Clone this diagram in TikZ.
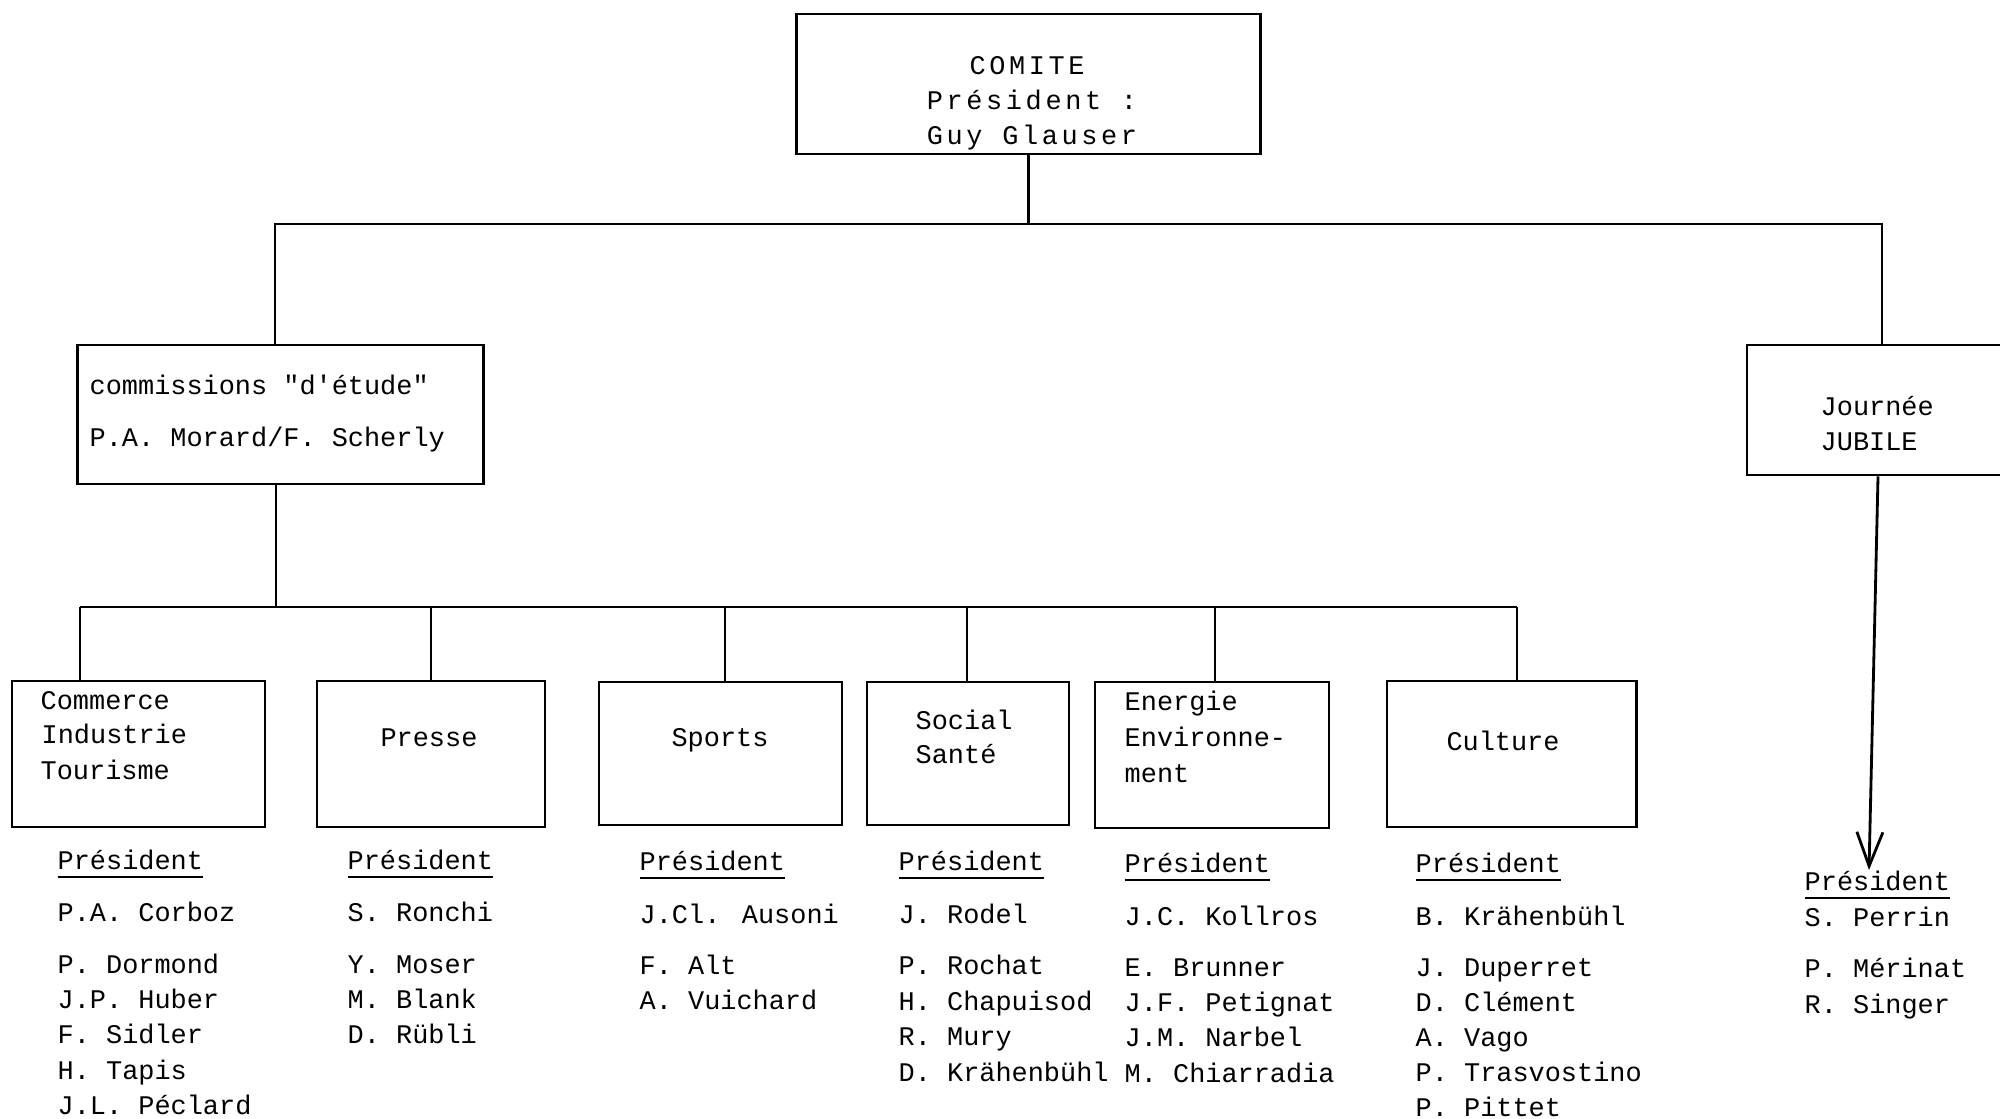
\documentclass[tikz,border=0pt]{standalone}
\usepackage{fontspec}
\setmainfont{Liberation Mono}
\newfontfamily\typew{Liberation Mono}
\newfontfamily\typewide[LetterSpace=13.5]{Liberation Mono}
\usepackage{tikz}
\usetikzlibrary{arrows.meta}

\newcommand\txtfont{\typew\fontsize{7.65}{10}\selectfont}
\newcommand\widefont{\typewide\fontsize{7.65}{10}\selectfont}
\newcommand\undl[1]{\setbox0\hbox{#1}\rlap{\rule[-2.6pt]{\wd0}{0.55pt}}\box0}

\tikzset{
  box/.style 2 args={draw, rectangle, line width=0.8pt, inner sep=0pt, minimum width=#1cm, minimum height=#2cm},
  txt/.style={anchor=base west, inner sep=0pt, font=\txtfont},
  ctr/.style={anchor=base, inner sep=0pt, font=\txtfont},
  link/.style={line width=0.8pt},
}

\begin{document}
\begin{tikzpicture}
[x=0.01cm, y=-0.01cm, >={Straight Barb[length=3.4mm,width=2.6mm]}]
\useasboundingbox (0,0) rectangle (2000,1119);

% boxes
\node[box={4.63}{1.40}] (comite) at (1028.5,84) {};
\node[box={4.05}{1.39}] (comm) at (280.5,414.5) {};
\node[box={2.66}{1.30}] (jubile) at (1880,410) {};
\node[box={2.53}{1.46}] (commerce) at (138.5,754) {};
\node[box={2.28}{1.46}] (presse) at (431,754) {};
\node[box={2.43}{1.43}] (sports) at (720.5,753.5) {};
\node[box={2.02}{1.43}] (social) at (968,753.5) {};
\node[box={2.34}{1.46}] (energie) at (1212,755) {};
\node[box={2.49}{1.46}] (culture) at (1511.5,754) {};

% connectors, upper level
\coordinate (j-comm) at (275,224);
\coordinate (j-jub) at (1882,224);
\draw[link] (comite.south) -- (comite.south |- j-comm);
\draw[link] (j-comm |- comm.north) -- (j-comm) -- (j-jub) -- (j-jub |- jubile.north);

% connectors, commissions
\coordinate (j-low) at (276,607);
\draw[link] (j-low |- comm.south) -- (j-low);
\foreach \b/\xx in {commerce/80, presse/431, sports/725, social/967, energie/1215, culture/1517}{
  \coordinate (j-\b) at (\xx,607);
  \draw[link] (j-\b) -- (j-\b |- \b.north);
}
\draw[link] (j-commerce) -- (j-culture);

% arrow to the jubile list
\coordinate (j-arr) at (1878,0);
\coordinate (jtip) at (1869,870);
\draw[link,->] (j-arr |- jubile.south) -- (jtip);

% box texts
\node[ctr, font=\widefont] (t-comite1) at (1027,75) {COMITE};
\node[ctr, font=\widefont] (t-comite2) at (1032,110) {Président :};
\node[ctr, font=\widefont] (t-comite3) at (1032,145) {Guy Glauser};
\node[txt] (t-comm1) at (89,395) {commissions "d'étude"};
\node[txt] (t-comm2) at (89,447) {P.A. Morard/F. Scherly};
\node[txt] (t-jub1) at (1820,416) {Journée};
\node[txt] (t-jub2) at (1820,451) {JUBILE};
\node[txt] (t-com1) at (40,709) {Commerce};
\node[txt] (t-com2) at (41,743) {Industrie};
\node[txt] (t-com3) at (40,779) {Tourisme};
\node[ctr] (t-presse) at (429,747) {Presse};
\node[ctr] (t-sports) at (720,747) {Sports};
\node[txt] (t-soc1) at (915,729) {Social};
\node[txt] (t-soc2) at (915,764) {Santé};
\node[txt] (t-ene1) at (1124,711) {Energie};
\node[txt] (t-ene2) at (1124,747) {Environne-};
\node[txt] (t-ene3) at (1124,782) {ment};
\node[ctr] (t-cult) at (1503,750) {Culture};

% presidents and members
\node[txt] (p1) at (57,869) {\undl{Président}};
\node[txt] (h1) at (57,921) {P.A. Corboz};
\foreach \nm [count=\i] in {P. Dormond, J.P. Huber, F. Sidler, H. Tapis, J.L. Péclard}
  \node[txt] (m1-\i) at (57,938+35.3*\i) {\nm};

\node[txt] (p2) at (347,869) {\undl{Président}};
\node[txt] (h2) at (347,921) {S. Ronchi};
\foreach \nm [count=\i] in {Y. Moser, M. Blank, D. Rübli}
  \node[txt] (m2-\i) at (347,938+35.3*\i) {\nm};

\node[txt] (p3) at (639,870) {\undl{Président}};
\node[txt] (h3) at (639,923) {J.Cl. Ausoni};
\foreach \nm [count=\i] in {F. Alt, A. Vuichard}
  \node[txt] (m3-\i) at (639,939+35.3*\i) {\nm};

\node[txt] (p4) at (898,870) {\undl{Président}};
\node[txt] (h4) at (898,923) {J. Rodel};
\foreach \nm [count=\i] in {P. Rochat, H. Chapuisod, R. Mury, D. Krähenbühl}
  \node[txt] (m4-\i) at (898,939+35.5*\i) {\nm};

\node[txt] (p5) at (1124,872) {\undl{Président}};
\node[txt] (h5) at (1124,925) {J.C. Kollros};
\foreach \nm [count=\i] in {E. Brunner, J.F. Petignat, J.M. Narbel, M. Chiarradia}
  \node[txt] (m5-\i) at (1124,941+35.3*\i) {\nm};

\node[txt] (p6) at (1415,872) {\undl{Président}};
\node[txt] (h6) at (1415,925) {B. Krähenbühl};
\foreach \nm [count=\i] in {J. Duperret, D. Clément, A. Vago, P. Trasvostino, P. Pittet}
  \node[txt] (m6-\i) at (1415,941+35*\i) {\nm};

\node[txt] (p7) at (1804,890) {\undl{Président}};
\node[txt] (h7) at (1804,926) {S. Perrin};
\foreach \nm [count=\i] in {P. Mérinat, R. Singer}
  \node[txt] (m7-\i) at (1804,942+35.5*\i) {\nm};
\end{tikzpicture}
\end{document}
